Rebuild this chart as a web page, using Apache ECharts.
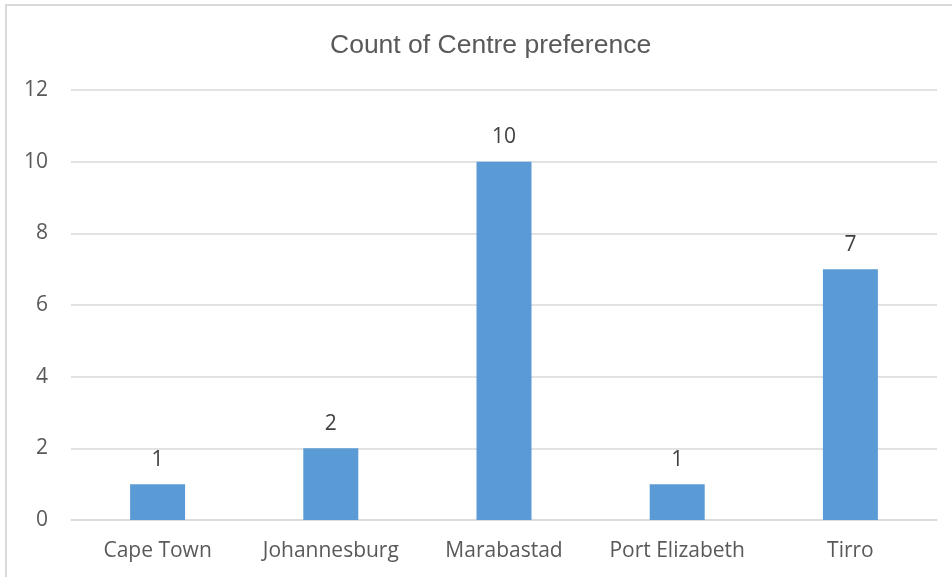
<!DOCTYPE html>
<html>
<head>
<meta charset="utf-8">
<script src="https://cdn.jsdelivr.net/npm/echarts@6/dist/echarts.min.js"></script>
<style>
html,body{margin:0;padding:0;background:#fff;}
#chart{width:952px;height:577px;}
</style>
</head>
<body>
<div id="chart"></div>
<script>
var categories = ['Cape Town', 'Johannesburg', 'Marabastad', 'Port Elizabeth', 'Tirro'];
var counts = [1, 2, 10, 1, 7];

var chart = echarts.init(document.getElementById('chart'));
var option = {
    backgroundColor: '#fff',
    animation: false,
    title: {
        text: 'Count of Centre preference',
        left: 325,
        top: 27,
        textStyle: {
            fontFamily: 'Liberation Sans',
            fontWeight: 400,
            fontSize: 26.5,
            color: '#595959'
        }
    },
    // chart frame (left and top edges are visible, the rest runs off the picture)
    graphic: [{
        type: 'rect',
        shape: {x: 6, y: 5, width: 960, height: 590},
        style: {fill: 'none', stroke: '#d9d9d9', lineWidth: 2},
        silent: true
    }],
    grid: {left: 71, right: 15, top: 90, bottom: 57},
    xAxis: {
        type: 'category',
        data: categories,
        axisLine: {lineStyle: {color: '#d9d9d9', width: 1.5}},
        axisTick: {show: false},
        axisLabel: {
            interval: 0,
            hideOverlap: false,
            fontFamily: 'Open Sans',
            fontSize: 21,
            color: '#595959',
            margin: 21
        }
    },
    yAxis: {
        type: 'value',
        min: 0,
        max: 12,
        interval: 2,
        axisLine: {show: false},
        axisTick: {show: false},
        axisLabel: {
            fontFamily: 'Open Sans',
            fontSize: 21,
            color: '#595959',
            margin: 23
        },
        splitLine: {lineStyle: {color: '#d9d9d9', width: 1.5}}
    },
    series: [{
        type: 'bar',
        data: counts,
        barWidth: 55,
        itemStyle: {color: '#5b9bd5'},
        label: {
            show: true,
            position: 'top',
            distance: 14,
            fontFamily: 'Open Sans',
            fontSize: 21,
            color: '#404040'
        }
    }]
};
chart.setOption(option);
</script>
</body>
</html>
